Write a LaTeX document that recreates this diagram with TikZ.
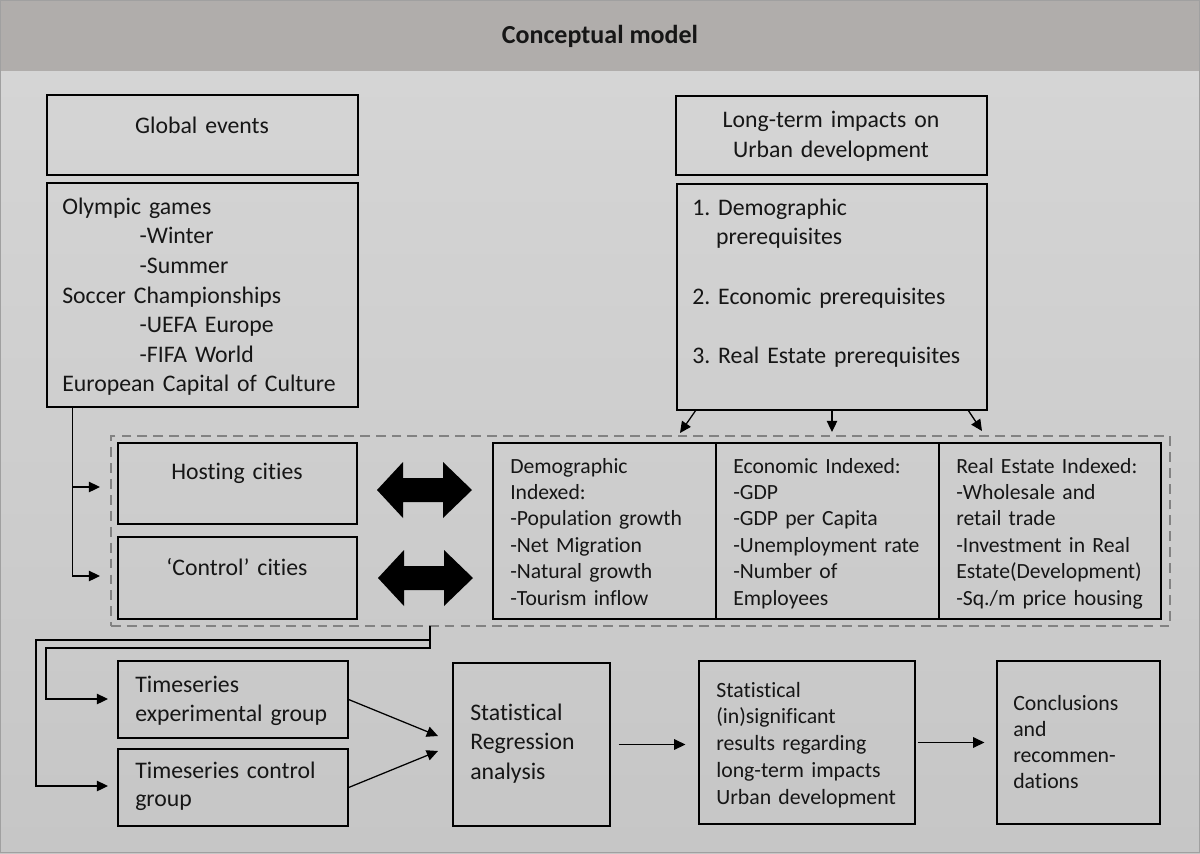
\documentclass[tikz,border=0pt]{standalone}
\usepackage{fontspec}
\setmainfont{Carlito}[Ligatures=NoCommon]
\usetikzlibrary{arrows.meta,fit}
\definecolor{hdr}{RGB}{176,173,171}
\definecolor{bgtop}{RGB}{213,213,213}
\definecolor{bgbot}{RGB}{198,198,198}
\definecolor{dashgray}{RGB}{130,130,130}
\definecolor{ink}{RGB}{22,22,22}
\definecolor{frame}{RGB}{160,160,160}
\frenchspacing
\begin{document}
\begin{tikzpicture}[x=0.25mm,y=-0.25mm,
  box/.style={draw=black,line width=0.9pt,inner sep=0pt},
  txt/.style={inner sep=0pt,anchor=base west,align=left,text=ink,text width=80mm,
    font=\fontsize{16.9}{21.1}\selectfont},
  txtc/.style={inner sep=0pt,anchor=base,align=center,text=ink,text width=76mm,
    font=\fontsize{16.9}{22}\selectfont},
  tabtxt/.style={inner sep=0pt,anchor=base west,align=left,text=ink,text width=55mm,
    font=\fontsize{15.4}{18.8}\selectfont},
  arr/.style={-{Triangle[length=8pt,width=7.5pt]},line width=0.9pt,draw=black},
  dbl/.style={fill=black},
]
\useasboundingbox (0,0) rectangle (1200,853);
% background
\shade[top color=bgtop,bottom color=bgbot] (0,71) rectangle (1200,853);
\fill[hdr] (0,0) rectangle (1200,71);
\draw[frame,line width=0.8pt] (0.5,0.5) rectangle (1199.5,852.5);
\node[inner sep=0pt,anchor=base,text=ink,font=\fontsize{18.5}{22}\selectfont\bfseries] (title) at (600,43) {Conceptual model};

% global events
\node[box,fit={(47,95)(358,175)}] (ge) {};
\node[txtc] (get) at (202,133) {Global events};
\node[box,fit={(47,183)(358,407)}] (gl) {};
\node[txt] (glt) at (62,214) {Olympic games\\
\hspace*{55pt}-Winter\\
\hspace*{55pt}-Summer\\
Soccer Championships\\
\hspace*{55pt}-UEFA Europe\\
\hspace*{55pt}-FIFA World\\
European Capital of Culture};

% long-term impacts
\node[box,fit={(676,96)(987,175)}] (lt) {};
\node[txtc] (ltt) at (831,127) {Long-term impacts on\\Urban development};
\node[box,fit={(677,184)(987,410)}] (pr) {};
\node[txt] (prt) at (692,215) {1. Demographic\\
\hspace*{17pt}prerequisites\\[21.1pt]
2. Economic prerequisites\\[21.1pt]
3. Real Estate prerequisites};

% dashed container
\node[draw=dashgray,line width=1.4pt,dash pattern=on 7pt off 4.3pt,inner sep=0pt,fit={(111,436)(1170,626)}] (db) {};

% cities
\node[box,fit={(118,443)(357,524)}] (hc) {};
\node[txtc] (hct) at (237,479) {Hosting cities};
\node[box,fit={(118,537)(357,619)}] (cc) {};
\node[txtc] (cct) at (237,575) {‘Control’ cities};

% double arrows
\fill[dbl] (377,490) -- (403,462) -- (403,478) -- (443,478) -- (443,462) -- (472,490)
  -- (443,518) -- (443,502) -- (403,502) -- (403,518) -- cycle;
\fill[dbl] (378,578) -- (404,550) -- (404,566) -- (444,566) -- (444,550) -- (473,578)
  -- (444,606) -- (444,590) -- (404,590) -- (404,606) -- cycle;

% indexed table
\node[box,fit={(493,443)(716,619)}] (c1) {};
\node[box,fit={(716,443)(939,619)}] (c2) {};
\node[box,fit={(939,443)(1161,619)}] (c3) {};
\node[tabtxt] (c1t) at (510,473) {Demographic\\Indexed:\\-Population growth\\-Net Migration\\-Natural growth\\-Tourism inflow};
\node[tabtxt] (c2t) at (733,473) {Economic Indexed:\\-GDP\\-GDP per Capita\\-Unemployment rate\\-Number of\\Employees};
\node[tabtxt] (c3t) at (956,473) {Real Estate Indexed:\\-Wholesale and\\retail trade\\-Investment in Real\\Estate(Development)\\-Sq./m price housing};

% bottom row
\node[box,fit={(118,661)(348,738)}] (tse) {};
\node[txt,font=\fontsize{16.9}{21.3}\selectfont] (tset) at (135,692) {Timeseries\\experimental group};
\node[box,fit={(118,749)(348,826)}] (tsc) {};
\node[txt,font=\fontsize{16.9}{20.6}\selectfont] (tsct) at (135,778) {Timeseries control\\group};
\node[box,fit={(453,663)(610,826)}] (st) {};
\node[txt,font=\fontsize{16.9}{21.3}\selectfont] (stt) at (470,720) {Statistical\\Regression\\analysis};
\node[box,fit={(699,661)(915,824)}] (rs) {};
\node[txt,font=\fontsize{15.5}{19.1}\selectfont] (rst) at (716,697) {Statistical\\(in)significant\\results regarding\\long-term impacts\\Urban development};
\node[box,fit={(997,661)(1160,824)}] (cn) {};
\node[txt,font=\fontsize{15.5}{18.6}\selectfont] (cnt) at (1013,710) {Conclusions\\and\\recommen-\\dations};

% connector coordinates
\coordinate (hin) at (100,487);
\coordinate (cin) at (100,576);
\coordinate (j) at (430,626);
\coordinate (tsein) at (108,699);
\coordinate (tscin) at (108,786);
\coordinate (s1) at (438,736);
\coordinate (s2) at (438,751);
\coordinate (a1) at (680,433);
\coordinate (a2) at (832,432);
\coordinate (a3) at (982,431);
\coordinate (p1) at (696,410);
\coordinate (p2) at (832,410);
\coordinate (p3) at (968,410);

% connectors
\draw[arr] (gl.south west) ++(26,0) |- (hin);
\draw[arr] (gl.south west) ++(26,0) |- (cin);
\draw[arr] (p1) -- (a1);
\draw[arr] (p2) -- (a2);
\draw[arr] (p3) -- (a3);
\draw[arr] (j) -- ++(0,22) -| (46,699) -- (tsein);
\draw[arr] (j) ++(0,14) -| (36,786) -- (tscin);
\draw[arr] (tse.east) -- (s1);
\draw[arr] (tsc.east) -- (s2);
\draw[arr,shorten <=5.7pt,shorten >=9.2pt] (st.east) -- (st.east -| rs.west);
\draw[arr,shorten <=1.5pt,shorten >=8.5pt] (rs.east) -- (rs.east -| cn.west);
\end{tikzpicture}
\end{document}
